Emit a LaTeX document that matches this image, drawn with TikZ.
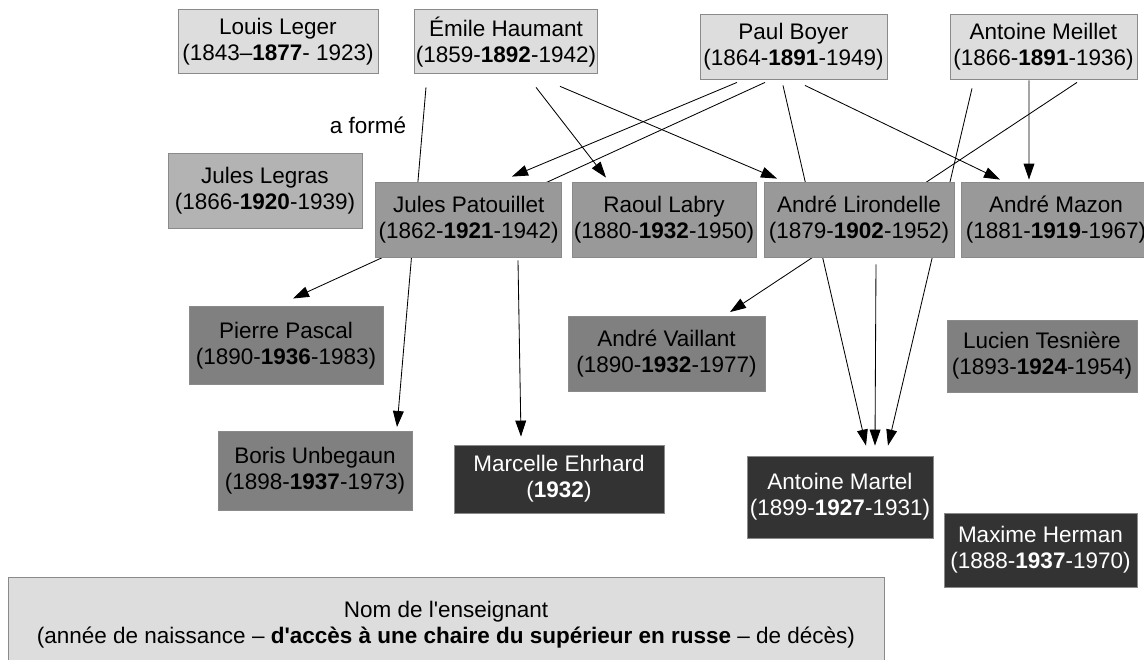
\documentclass[tikz,border=0pt]{standalone}
\usepackage{fontspec}
\setmainfont{Liberation Sans}[Ligatures=TeXOff]
\usetikzlibrary{arrows.meta}
\pgfdeclarelayer{bg}
\pgfsetlayers{bg,main}
\definecolor{ancien}{HTML}{DDDDDD}
\definecolor{legras}{HTML}{B3B3B3}
\definecolor{eleve}{HTML}{999999}
\definecolor{cadet}{HTML}{808080}
\definecolor{jeune}{HTML}{333333}
\definecolor{bord}{HTML}{8A8A8A}

\begin{document}
\begin{tikzpicture}[
        every node/.style={font=\fontsize{16}{18.5}\selectfont, align=center},
        prof/.style={rectangle, draw=bord, line width=0.6pt, inner sep=1pt, minimum height=1.875cm},
        ancienbox/.style={prof, fill=ancien, minimum height=1.6cm},
        legrasbox/.style={prof, fill=legras},
        elevebox/.style={prof, fill=eleve},
        cadetbox/.style={prof, fill=cadet},
        jeunebox/.style={prof, fill=jeune, text=white},
        forme/.style={-{Triangle[length=0.4cm,width=0.27cm]}, line width=0.6pt}
    ]
        \useasboundingbox (-14.3,-8.2375) rectangle (14.3,8.2375);

        % First chairs
        \node[ancienbox, minimum width=5cm] (leger) at (-7.35,7.19) {Louis Leger\\(1843–\textbf{1877}- 1923)};
        \node[ancienbox, minimum width=4.55cm] (haumant) at (-1.65,7.19) {Émile Haumant\\(1859-\textbf{1892}-1942)};
        \node[ancienbox, minimum width=4.675cm, minimum height=1.625cm] (boyer) at (5.5375,7.075) {Paul Boyer\\(1864-\textbf{1891}-1949)};
        \node[ancienbox, minimum width=4.675cm, minimum height=1.625cm] (meillet) at (11.7875,7.075) {Antoine Meillet\\(1866-\textbf{1891}-1936)};

        \node (aforme) at (-5.1,5.1125) {a formé};

        % Second generation
        \node[legrasbox, minimum width=4.85cm] (legras) at (-7.675,3.475) {Jules Legras\\(1866-\textbf{1920}-1939)};
        \node[elevebox, minimum width=4.65cm] (patouillet) at (-2.5825,2.75) {Jules Patouillet\\(1862-\textbf{1921}-1942)};
        \node[elevebox, minimum width=4.6cm] (labry) at (2.3,2.75) {Raoul Labry\\(1880-\textbf{1932}-1950)};
        \node[elevebox, minimum width=4.75cm] (lirondelle) at (7.175,2.75) {André Lirondelle\\(1879-\textbf{1902}-1952)};
        \node[elevebox, minimum width=4.75cm] (mazon) at (12.1,2.75) {André Mazon\\(1881-\textbf{1919}-1967)};

        % Third generation
        \node[cadetbox, minimum width=4.85cm, minimum height=1.95cm] (pascal) at (-7.15,-0.4) {Pierre Pascal\\(1890-\textbf{1936}-1983)};
        \node[cadetbox, minimum width=4.925cm] (vaillant) at (2.3625,-0.6125) {André Vaillant\\(1890-\textbf{1932}-1977)};
        \node[cadetbox, minimum width=4.75cm, minimum height=1.8cm] (tesniere) at (11.75,-0.6625) {Lucien Tesnière\\(1893-\textbf{1924}-1954)};
        \node[cadetbox, minimum width=4.85cm, minimum height=1.975cm] (unbegaun) at (-6.425,-3.525) {Boris Unbegaun\\(1898-\textbf{1937}-1973)};

        % Youngest
        \node[jeunebox, minimum width=5.25cm, minimum height=1.7cm] (ehrhard) at (-0.325,-3.7375) {Marcelle Ehrhard\\(\textbf{1932})};
        \node[jeunebox, minimum width=4.65cm, minimum height=2.05cm] (martel) at (6.7,-4.1875) {Antoine Martel\\(1899-\textbf{1927}-1931)};
        \node[jeunebox, minimum width=4.825cm, minimum height=1.85cm] (herman) at (11.7125,-5.5125) {Maxime Herman\\(1888-\textbf{1937}-1970)};

        % Legend
        \node[ancienbox, minimum width=21.9cm, minimum height=2.375cm] (legende) at (-3.15,-7.375) {Nom de l'enseignant\\(année de naissance – \textbf{d'accès à une chaire du supérieur en russe} – de décès)};

        % Who trained whom
        \begin{pgfonlayer}{bg}
        \draw[forme] ([shift={(-2.0,-0.325)}]haumant.south) -- ([shift={(2.05,0.09)}]unbegaun.north);
        \draw[forme] ([shift={(0.75,-0.325)}]haumant.south) -- ([shift={(-1.45,0.1)}]labry.north);
        \draw[forme] ([shift={(1.35,-0.3)}]haumant.south) -- ([shift={(-2.05,0.075)}]lirondelle.north);
        \draw[forme] ([shift={(-1.4125,-0.075)}]boyer.south) -- ([shift={(1.0825,0.125)}]patouillet.north);
        \draw[forme] ([shift={(-0.7125,-0.075)}]boyer.south) -- ([shift={(0.175,0.19)}]pascal.north);
        \draw[forme] ([shift={(-0.2625,-0.15)}]boyer.south) -- ([shift={(0.65,0.25)}]martel.north);
        \draw[forme] ([shift={(0.2875,-0.15)}]boyer.south) -- ([shift={(-1.4,0.05)}]mazon.north);
        \draw[forme] ([shift={(-1.7875,-0.225)}]meillet.south) -- ([shift={(1.2,0.25)}]martel.north);
        \draw[forme] ([shift={(-0.3625,-0.025)}]meillet.south) -- ([shift={(-0.675,0.05)}]mazon.north);
        \draw[forme] ([shift={(0.8375,-0.075)}]meillet.south) -- ([shift={(1.5875,0.1)}]vaillant.north);
        \draw[forme] ([shift={(1.2325,-0.075)}]patouillet.south) -- ([shift={(-0.95,0.2)}]ehrhard.north);
        \draw[forme] ([shift={(0.425,-0.175)}]lirondelle.south) -- ([shift={(0.875,0.25)}]martel.north);
        \end{pgfonlayer}
    \end{tikzpicture}
\end{document}
